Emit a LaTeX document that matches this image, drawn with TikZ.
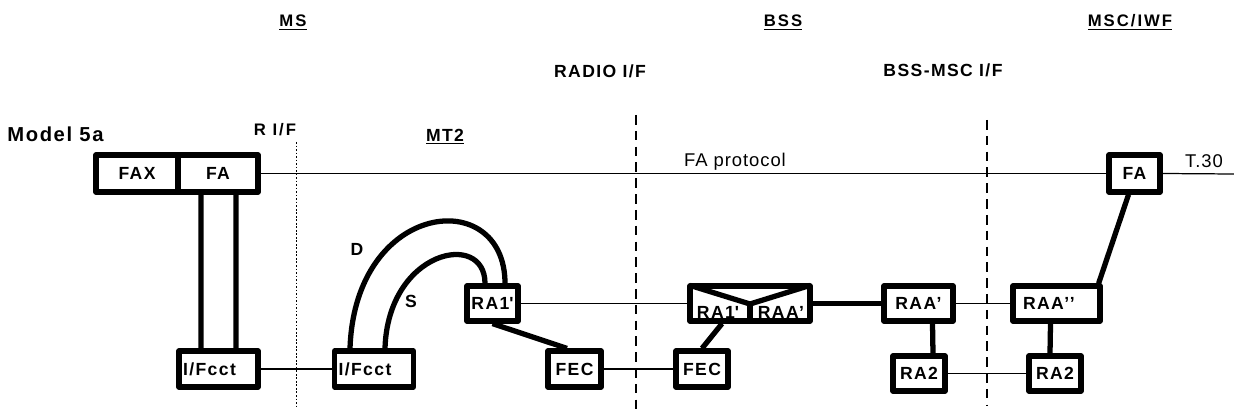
\documentclass[tikz,border=0pt]{standalone}
\usepackage{fontspec}
\setmainfont{Liberation Sans}
\newfontfamily\lblfont[LetterSpace=8]{Liberation Sans}
\newfontfamily\hdrfont[LetterSpace=12]{Liberation Sans}
\newfontfamily\txtfont[LetterSpace=5]{Liberation Sans}
\usetikzlibrary{positioning,calc}

\begin{document}
\begin{tikzpicture}[
  x=0.02cm, y=-0.02cm,
  blk/.style={draw, line width=3pt, line join=round, inner sep=0pt,
    minimum height=0.72cm, font=\lblfont\bfseries\fontsize{10pt}{12pt}\selectfont},
  lft/.style={align=left, inner xsep=0.08cm, text width=1.42cm},
  lbl/.style={inner sep=0pt, font=\lblfont\bfseries\fontsize{10pt}{12pt}\selectfont},
  hdr/.style={inner sep=0pt, anchor=base, font=\hdrfont\bfseries\fontsize{9.5pt}{11pt}\selectfont},
  bighdr/.style={inner sep=0pt, anchor=base, font=\lblfont\bfseries\fontsize{10pt}{12pt}\selectfont},
  txt/.style={inner sep=0pt, anchor=base, font=\txtfont\fontsize{10.5pt}{12pt}\selectfont},
  thn/.style={line width=0.7pt},
  thk/.style={line width=3pt, line join=round},
  radio/.style={line width=1.6pt, dash pattern=on 5.5pt off 3.5pt},
  ref/.style={line width=0.5pt, dash pattern=on 1pt off 1pt},
]
\useasboundingbox (0,0) rectangle (1234,412);

% headings
\node[hdr] (ms) at (293,27) {\underline{MS}};
\node[hdr] (bss) at (783,27) {\underline{BSS}};
\node[hdr] (msc) at (1130,27) {\underline{MSC/IWF}};
\node[bighdr] (radio) at (600,78) {RADIO I/F};
\node[bighdr] (bssmsc) at (943,77) {BSS-MSC I/F};
\node[inner sep=0pt, anchor=base west, font=\lblfont\bfseries\fontsize{11.5pt}{13pt}\selectfont]
  (model) at (7,141) {Model 5a};
\node[hdr] (rif) at (275,135) {R I/F};
\node[bighdr] (mt2) at (445,141) {\underline{MT2}};

% interfaces
\coordinate (riftop) at (296,142);
\coordinate (rifbot) at (296,408);
\coordinate (radtop) at (636,115);
\coordinate (radbot) at (636,412);
\coordinate (msctop) at (987,120);
\coordinate (mscbot) at (987,405);
\draw[ref] (riftop) -- (rifbot);
\draw[radio] (radtop) -- (radbot);
\draw[radio] (msctop) -- (mscbot);

% blocks
\node[blk, minimum width=1.64cm, minimum height=0.74cm] (fax) at (137,173.5) {FAX};
\node[blk, minimum width=1.6cm, minimum height=0.74cm] (fal) at (218,173.5) {FA};
\node[blk, lft] (ifl) at (218.5,369) {I/Fcct};
\node[blk, lft] (ifr) at (374,369) {I/Fcct};
\node[blk, minimum width=1.02cm, minimum height=0.7cm] (ra1) at (492.5,303.5) {RA1\textquotesingle};
\node[blk, minimum width=1.06cm] (fecl) at (574.5,369) {FEC};
\node[blk, minimum width=1.04cm] (fecr) at (702,369) {FEC};
\node[blk, minimum width=2.4cm, minimum height=0.7cm] (bssra) at (750,303.5) {};
\node[lbl] (bssra1) at (718,312) {RA1\textquotesingle};
\node[lbl] (bssraa) at (781,312) {RAA’};
\node[blk, minimum width=1.38cm, minimum height=0.7cm] (raa1) at (918.5,303.5) {RAA’};
\node[blk, minimum width=1.04cm, minimum height=0.7cm] (ra2l) at (919,373.5) {RA2};
\node[blk, minimum height=0.7cm, align=left, inner xsep=0.2cm, text width=1.34cm]
  (raa2) at (1056.5,303.5) {RAA’’};
\node[blk, minimum width=1.04cm, minimum height=0.7cm] (ra2r) at (1055,373.5) {RA2};
\node[blk, minimum width=1.02cm, minimum height=0.74cm] (far) at (1134.5,173.5) {FA};

% split block
\coordinate (vtip) at (750,304);
\draw[thk] ([xshift=0.05cm,yshift=-0.04cm]bssra.north west) -- (vtip)
  -- ([xshift=-0.05cm,yshift=-0.04cm]bssra.north east);
\draw[thk] (vtip) -- (vtip |- bssra.south);

% links
\coordinate (t30end) at (1234,174);
\draw[thn] (fal.east) -- (far.west);
\node[txt] (faproto) at (735,166) {FA protocol};
\draw[thn] (far.east) -- (t30end);
\node[txt] (t30) at (1204,168) {T.30};
\draw[thk] ([xshift=-0.34cm]fal.south) -- ([xshift=-0.35cm]ifl.north);
\draw[thk] ([xshift=0.36cm]fal.south) -- ([xshift=0.35cm]ifl.north);
\draw[thn] (ifl.east) -- (ifr.west);
\draw[thk] ([xshift=-0.48cm]ifr.north) .. controls (355,200) and (505,185) .. ([xshift=0.25cm]ra1.north);
\draw[thk] ([xshift=0.22cm]ifr.north) .. controls (388,250) and (485,230) .. ([xshift=-0.15cm]ra1.north);
\node[lbl, anchor=base] (dlbl) at (357,255) {D};
\node[lbl, anchor=base] (slbl) at (411,307) {S};
\draw[thk] (ra1.south) -- ([xshift=-0.15cm]fecl.north);
\draw[thn] (ra1.east) -- (bssra.west);
\draw[thn] (fecl.east) -- (fecr.west);
\draw[thk] ([xshift=-0.56cm]bssra.south) -- (fecr.north);
\draw[thk] (bssra.east) -- (raa1.west);
\draw[thn] (raa1.east) -- (raa2.west);
\draw[thk] ([xshift=0.28cm]raa1.south) -- ([xshift=0.28cm]ra2l.north);
\draw[thn] (ra2l.east) -- (ra2r.west);
\draw[thk] ([xshift=-0.12cm]raa2.south) -- ([xshift=-0.1cm]ra2r.north);
\draw[thk] ([xshift=-0.08cm]raa2.north east) -- ([xshift=-0.12cm]far.south);
\end{tikzpicture}
\end{document}
